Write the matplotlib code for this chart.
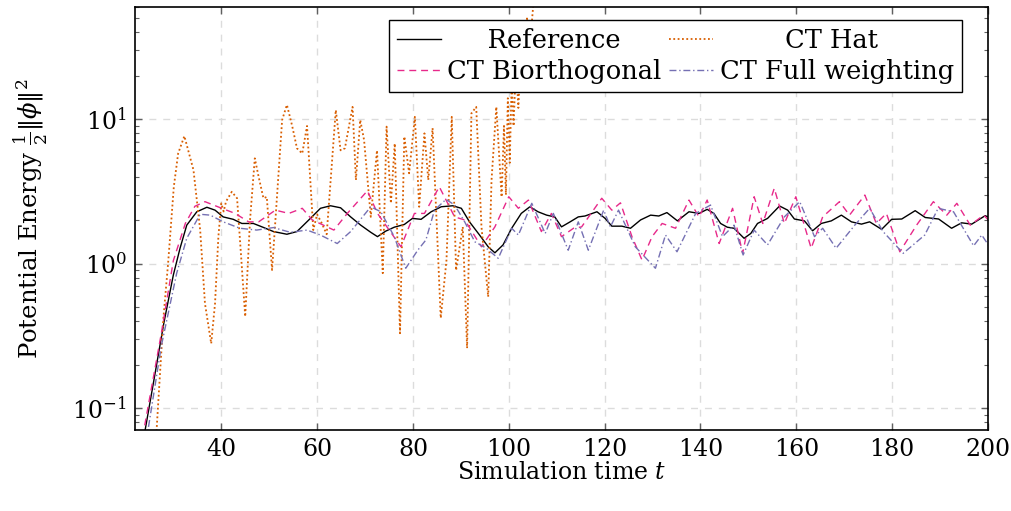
import matplotlib
matplotlib.use("Agg")
import matplotlib.pyplot as plt
from matplotlib.ticker import LogLocator, FixedLocator, NullFormatter

plt.rcParams['font.family'] = ['DejaVu Serif']
plt.rcParams['mathtext.fontset'] = 'dejavuserif'

# ---------------- data ----------------
t_ref = [22, 24.1, 26, 28, 30.0, 31.4, 32.8, 34.9, 37.0, 38.7, 40.4, 42.5, 44.3, 46.7, 48.5,
         50.9, 53.7, 55.8, 58.6, 60.7, 62.8, 64.9, 67.0, 69.1, 71.2, 72.6, 74.3, 76.1, 78.2, 79.9,
         81.7, 83.8, 85.9, 88.3, 90.1, 91.8, 93.9, 95.7, 97.1, 98.8, 100.6, 102.6, 104.4, 106.1,
         107.9, 109.6, 111.0, 112.8, 114.5, 115.9, 118.4, 120.1, 121.5, 123.6, 125.4, 127.5, 129.6,
         131.3, 133.0, 135.2, 137.6, 139.7, 141.4, 142.8, 144.2, 145.6, 147.0, 149.1, 150.5, 151.9,
         154.0, 156.5, 158.2, 159.6, 161.7, 163.4, 165.2, 167.3, 169.4, 171.5, 173.6, 175.3, 177.8,
         179.9, 182.0, 184.8, 186.9, 189.7, 192.4, 194.5, 196.6, 199.4, 200.8]
e_ref = [0.028, 0.07, 0.16, 0.385, 0.835, 1.28, 1.85, 2.29, 2.46, 2.35, 2.11, 2.03, 1.90, 1.90, 1.80,
         1.67, 1.60, 1.67, 2.06, 2.42, 2.52, 2.44, 2.11, 1.85, 1.65, 1.54, 1.68, 1.79, 1.87, 2.06,
         2.03, 2.29, 2.48, 2.52, 2.42, 1.95, 1.58, 1.31, 1.19, 1.35, 1.76, 2.23, 2.48, 2.29,
         2.17, 2.11, 1.80, 1.95, 2.11, 2.14, 2.29, 2.06, 1.82, 1.82, 1.76, 2.01, 2.17,
         2.14, 2.26, 1.98, 2.29, 2.23, 2.38, 2.23, 1.90, 1.79, 1.76, 1.50, 1.62, 1.90,
         2.06, 2.51, 2.35, 2.04, 1.98, 1.69, 1.90, 1.98, 2.17, 1.95, 1.88, 1.95, 1.73,
         2.03, 2.04, 2.33, 2.09, 2.04, 1.76, 1.92, 1.88, 2.15, 2.06]

t_hat = [25.5, 26.5, 27.9, 28.9, 30.1, 31.0, 32.3, 34.2, 35.6, 36.6, 37.9, 38.7, 39.4, 40.0, 40.5, 41.0,
         42.2, 43.3, 44.1, 45.0, 46.0, 47.0, 47.8, 48.8, 49.5, 50.6, 51.3, 52.7, 53.7, 54.8, 55.8,
         56.9, 57.9, 59.2, 60.0, 61.0, 62.0, 63.9, 64.9, 65.8, 67.4, 68.1, 69.0, 69.8, 71.2, 72.5,
         73.7, 74.5, 75.4, 76.2, 77.3, 78.2, 79.2, 80.4, 81.3, 82.4, 83.2, 84.1, 85.8, 87.0, 88.1,
         89.0, 90.4, 91.3, 92.2, 93.2, 94.3, 95.7, 96.4, 97.4, 98.5, 99.0, 99.4, 99.8, 100.2, 100.6,
         101.0, 101.5, 102.0, 102.6, 103.2, 103.8, 104.5, 105.5]
e_hat = [0.04, 0.07, 0.41, 1.0, 3.41, 5.8, 7.66, 4.46, 1.71, 0.53, 0.28, 0.53, 1.54, 2.62, 2.3, 2.7,
         3.15, 2.84, 1.18, 0.43, 2.0, 5.37, 4.0, 2.84, 2.9, 0.905, 2.0, 9.9, 12.6, 9.0, 6.3,
         5.8, 9.0, 1.71, 2.2, 1.9, 1.6, 11.6, 6.1, 6.3, 12.2, 3.8, 9.9, 7.2, 2.11, 6.1,
         0.86, 8.9, 2.62, 6.8, 0.33, 7.6, 4.23, 10.4, 2.48, 8.0, 3.8, 8.7, 0.42, 1.06, 10.4,
         0.90, 1.8, 0.26, 11.0, 12.2, 1.80, 0.59, 3.8, 12.2, 2.9, 9.0, 3.0, 14.0, 5.0, 18.0,
         9.0, 25.0, 12.0, 35.0, 20.0, 50.0, 35.0, 90.0]

t_bio = [22, 24.0, 27.5, 30.0, 32.5, 34.5, 36.6, 40.1, 42.9, 45.7, 47.8, 51.3, 54.1, 56.9, 59.0, 63.5,
         66.3, 70.5, 72.6, 77.5, 80.3, 82.4, 85.5, 88.7, 90.8, 94.3, 97.1, 100.0, 102.0, 104.1, 106.8,
         108.9, 111.0, 113.5, 115.2, 119.4, 121.5, 123.3, 125.7, 127.8, 129.9, 132.0, 134.8, 137.6,
         139.7, 141.4, 143.9, 146.7, 148.8, 151.2, 153.0, 155.4, 157.5, 159.9, 163.1, 165.5, 169.0,
         171.1, 174.3, 176.7, 178.8, 181.6, 185.1, 188.6, 191.4, 193.5, 196.3, 199.1, 200.8]
e_bio = [0.03, 0.075, 0.33, 1.05, 1.9, 2.5, 2.69, 2.42, 2.23, 1.95, 1.95, 2.35, 2.23, 2.42, 2.01, 1.71,
         2.23, 3.20, 2.23, 1.31, 2.23, 2.23, 3.41, 2.11, 2.01, 1.31, 1.80, 2.91, 2.42, 2.76, 1.67,
         2.23, 1.54, 1.76, 1.80, 2.84, 2.35, 2.64, 1.54, 1.06, 1.54, 1.90, 1.76, 2.76,
         2.11, 2.76, 1.38, 2.42, 1.18, 2.91, 1.90, 3.33, 1.90, 2.91, 1.28, 2.11, 2.69,
         2.17, 2.99, 1.90, 2.23, 1.21, 1.85, 2.69, 2.17, 2.62, 1.85, 2.17, 1.90]

t_fw = [22, 24.7, 27.5, 30.7, 32.8, 35.6, 37.7, 40.4, 43.9, 47.4, 50.9, 54.4, 57.9, 60.7, 64.2,
        67.0, 71.2, 73.3, 76.1, 78.5, 81.0, 82.7, 84.5, 86.9, 88.7, 90.8, 92.9, 95.3, 97.8, 100.6,
        102.0, 104.8, 107.6, 109.3, 112.4, 114.5, 116.6, 119.8, 121.2, 122.9, 126.4, 130.6, 132.7,
        135.1, 139.0, 142.1, 144.6, 147.0, 148.9, 151.2, 154.0, 157.5, 160.7, 163.8, 165.5, 168.3,
        172.2, 175.3, 178.1, 182.3, 186.8, 189.6, 192.8, 197.0, 198.7, 200.8]
e_fw = [0.025, 0.07, 0.27, 0.86, 1.50, 2.20, 2.17, 1.95, 1.76, 1.71, 1.78, 1.65, 1.71, 1.58, 1.38,
        1.67, 2.48, 2.29, 1.54, 0.93, 1.24, 1.46, 2.35, 2.79, 2.55, 1.95, 1.42, 1.28, 1.09, 1.76,
        1.58, 2.62, 1.62, 2.23, 1.24, 1.95, 1.24, 2.35, 1.80, 2.35, 1.31, 0.93, 1.58,
        1.21, 2.23, 2.55, 1.54, 1.85, 1.15, 1.71, 1.35, 2.11, 2.69, 1.54, 1.76, 1.28,
        1.85, 2.42, 1.67, 1.18, 1.58, 2.42, 2.29, 1.33, 1.58, 1.24]

labels = ["Reference", "CT Hat", "CT Biorthogonal", "CT Full weighting"]
x_ticks = [40, 60, 80, 100, 120, 140, 160, 180, 200]

# ---------------- figure ----------------
fig = plt.figure(figsize=(10.12, 5.11), dpi=100)
ax = fig.add_axes([135 / 1012, 1 - 430 / 511, (988 - 135) / 1012, (430 - 7) / 511])

FS = 17
LFS = 18.5
l1, = ax.plot(t_ref, e_ref, color='black', lw=1.0, label=" " * 5 + labels[0])
l2, = ax.plot(t_hat, e_hat, color='#d95f02', lw=1.3, ls=(0, (1, 1.4)), label=" " * 8 + labels[1])
l3, = ax.plot(t_bio, e_bio, color='#e7298a', lw=1.0, ls=(0, (5, 3.5)), label=labels[2])
l4, = ax.plot(t_fw, e_fw, color='#7570b3', lw=1.0, ls=(0, (5, 2, 1, 2)), label=labels[3])

ax.set_yscale('log')
ax.set_xlim(22, 200)
ax.set_ylim(0.0705, 60)
ax.xaxis.set_major_locator(FixedLocator(x_ticks))
ax.yaxis.set_major_locator(LogLocator(base=10, numticks=10))
ax.yaxis.set_minor_locator(LogLocator(base=10, subs=range(2, 10), numticks=20))
ax.yaxis.set_minor_formatter(NullFormatter())

ax.grid(True, which='major', color='#dcdcdc', ls=(0, (5, 5)), lw=1.0)
ax.set_axisbelow(True)
ax.tick_params(which='both', direction='in', top=True, right=True, color='#606060', labelsize=FS)
ax.tick_params(which='major', length=5, width=1, pad=6)
ax.tick_params(which='minor', length=3, width=0.8)
for s in ax.spines.values():
    s.set_linewidth(1.2)

ax.set_xlabel(r"Simulation time $t$", fontsize=FS, labelpad=-0.5)
ax.set_ylabel(r"Potential Energy $\frac{1}{2}\Vert\phi\Vert^2$", fontsize=FS + 0.5, labelpad=16)

leg = ax.legend(handles=[l1, l3, l2, l4], ncol=2, loc='upper right',
                bbox_to_anchor=((962 - 135) / (988 - 135), (430 - 20) / (430 - 7)),
                borderaxespad=0, fontsize=LFS, frameon=True, fancybox=False, framealpha=1,
                edgecolor='black', handlelength=1.7, handletextpad=0.27, columnspacing=0.3,
                labelspacing=0.25, borderpad=0.3)
leg.get_frame().set_linewidth(1.0)

fig.savefig("out.png", dpi=100)
